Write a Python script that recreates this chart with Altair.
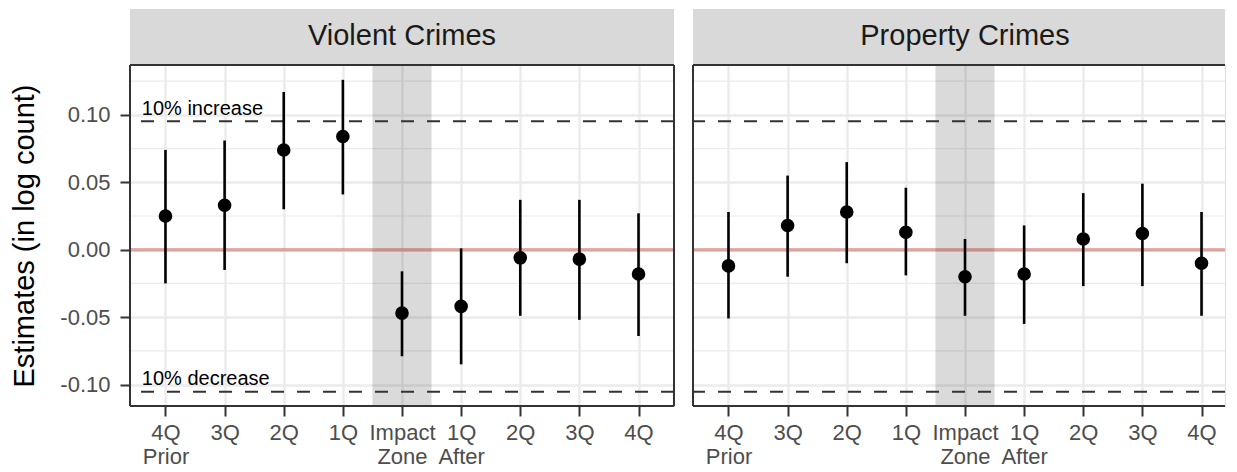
import json
import altair as alt
import pandas as pd

# ---------------- data ----------------
periods = [-4, -3, -2, -1, 0, 1, 2, 3, 4]
x_tick_labels = [["4Q", "Prior"], ["3Q"], ["2Q"], ["1Q"], ["Impact", "Zone"],
                 ["1Q", "After"], ["2Q"], ["3Q"], ["4Q"]]

violent_est = [0.025, 0.033, 0.074, 0.084, -0.047, -0.042, -0.006, -0.007, -0.018]
violent_lo = [-0.025, -0.015, 0.030, 0.041, -0.079, -0.085, -0.049, -0.052, -0.064]
violent_hi = [0.074, 0.081, 0.117, 0.126, -0.016, 0.001, 0.037, 0.037, 0.027]

property_est = [-0.012, 0.018, 0.028, 0.013, -0.020, -0.018, 0.008, 0.012, -0.010]
property_lo = [-0.051, -0.020, -0.010, -0.019, -0.049, -0.055, -0.027, -0.027, -0.049]
property_hi = [0.028, 0.055, 0.065, 0.046, 0.008, 0.018, 0.042, 0.049, 0.028]

panel_titles = ["Violent Crimes", "Property Crimes"]
threshold_values = [0.0953, -0.1054]          # log(1.1), log(0.9)
threshold_labels = ["10% increase", "10% decrease"]
annotation_x = [-4.4, -4.4]
impact_band = [-0.5, 0.5]
zero_line = [0.0]
major_breaks = [-0.10, -0.05, 0.0, 0.05, 0.10]
minor_breaks = [-0.075, -0.025, 0.025, 0.075, 0.125]
y_domain = [-0.1159, 0.1370]

# ---------------- styling / layout ----------------
FONT = "Liberation Sans"
W_LEFT, W_RIGHT, H = 544, 532, 341
STEP = W_LEFT / 9.2                    # px per period
STRIP_H = 56
x_domain_left = [-4.6, 4.6]
# right panel runs off the page edge in the reference: cut its domain at the page
x_domain_right = [-4.6, -4.6 + W_RIGHT / STEP]

yscale = alt.Scale(domain=y_domain, nice=False, zero=False)

label_expr_x = f"{json.dumps(x_tick_labels)}[indexof({json.dumps(periods)}, datum.value)]"
label_expr_y = "(datum.value < 0 ? '-' : '') + format(abs(datum.value), '.2f')"
BORDER = "#333333"


def x_axis():
    return alt.Axis(values=periods, labelExpr=label_expr_x, labelAngle=0,
                    labelFontSize=22, labelLineHeight=24, labelColor="#4D4D4D",
                    labelFont=FONT, labelPadding=6, labelOverlap=False,
                    labelFlush=False, tickSize=10, tickColor=BORDER,
                    tickWidth=2, domain=False, grid=True, gridColor="#EBEBEB",
                    gridWidth=2.4, title=None)


def y_axis(show):
    if show:
        return alt.Axis(values=major_breaks, labelExpr=label_expr_y,
                        title="Estimates (in log count)", titleFontSize=29,
                        titleFontWeight="normal", titleColor="black",
                        titleFont=FONT, titlePadding=20, labelFontSize=22,
                        labelColor="#4D4D4D", labelFont=FONT, labelPadding=10,
                        tickSize=10, tickColor=BORDER, tickWidth=2,
                        domain=False, grid=True, gridColor="#EBEBEB",
                        gridWidth=2.4)
    return alt.Axis(values=major_breaks, labels=False, ticks=False, title=None,
                    domain=False, grid=True, gridColor="#EBEBEB", gridWidth=2.4)


def panel(title, est, lo, hi, show_y, show_annot, width, x_domain):
    xscale = alt.Scale(domain=x_domain, nice=False, zero=False)
    X = lambda f: alt.X(f, scale=xscale, axis=x_axis())
    Y = lambda f: alt.Y(f, scale=yscale, axis=y_axis(show_y))

    pts = pd.DataFrame({"period": periods, "est": est, "lo": lo, "hi": hi})

    minor = alt.Chart(pd.DataFrame({"v": minor_breaks})).mark_rule(
        color="#EBEBEB", strokeWidth=1.2).encode(y=Y("v:Q"))

    band = alt.Chart(pd.DataFrame({"start": [impact_band[0]], "end": [impact_band[1]]})).mark_rect(
        color="black", opacity=0.145).encode(x=X("start:Q"), x2="end:Q")

    zero = alt.Chart(pd.DataFrame({"v": zero_line})).mark_rule(
        color="#C0392B", opacity=0.4, strokeWidth=3.5).encode(y=Y("v:Q"))

    dashed = alt.Chart(pd.DataFrame({"v": threshold_values})).mark_rule(
        color=BORDER, strokeWidth=2, strokeDash=[13, 13]).encode(y=Y("v:Q"))

    bars = alt.Chart(pts).mark_rule(color="black", strokeWidth=2.6).encode(
        x=X("period:Q"), y=Y("lo:Q"), y2="hi:Q")

    dots = alt.Chart(pts).mark_circle(color="black", size=185, opacity=1).encode(
        x=X("period:Q"), y=Y("est:Q"))

    # panel border: top / bottom at the y-domain limits, left at the x-domain start
    hborder = alt.Chart(pd.DataFrame({"v": y_domain})).mark_rule(
        color=BORDER, strokeWidth=2).encode(y=Y("v:Q"))
    vborder = alt.Chart(pd.DataFrame({"u": [x_domain[0]]})).mark_rule(
        color=BORDER, strokeWidth=2).encode(x=X("u:Q"))

    strip_bg = alt.Chart(pd.DataFrame({"t": [title]})).mark_rect(
        color="#D9D9D9").encode(x=alt.value(0), x2=alt.value(width),
                                y=alt.value(-STRIP_H), y2=alt.value(0))
    strip_txt = alt.Chart(pd.DataFrame({"t": [title]})).mark_text(
        fontSize=29, font=FONT, color="#1A1A1A", align="center",
        baseline="middle").encode(x=alt.value(W_LEFT / 2), y=alt.value(-STRIP_H / 2 - 1),
                                  text="t:N")

    layers = [minor, band, zero, dashed, bars, dots]
    if show_annot:
        ann = alt.Chart(pd.DataFrame({"x": annotation_x, "v": threshold_values,
                                      "lab": threshold_labels})).mark_text(
            fontSize=20, font=FONT, color="black", align="left",
            baseline="alphabetic", dy=-6.5).encode(x=X("x:Q"), y=Y("v:Q"), text="lab:N")
        layers.append(ann)
    layers += [strip_bg, strip_txt, hborder, vborder]
    if width == W_LEFT:
        rborder = alt.Chart(pd.DataFrame({"u": [x_domain[1]]})).mark_rule(
            color=BORDER, strokeWidth=2).encode(x=X("u:Q"))
        layers.append(rborder)
    return alt.layer(*layers).properties(width=width, height=H)


left = panel(panel_titles[0], violent_est, violent_lo, violent_hi, True, True,
             W_LEFT, x_domain_left)
right = panel(panel_titles[1], property_est, property_lo, property_hi, False, False,
              W_RIGHT, x_domain_right)

chart = alt.hconcat(left, right, spacing=19, bounds="flush").properties(
    padding={"left": 2, "top": 0, "right": 0, "bottom": 0},
    background="white",
).configure_view(stroke="transparent").configure(font=FONT)

chart.save("out.html", embed_options={"renderer": "svg", "actions": False})
